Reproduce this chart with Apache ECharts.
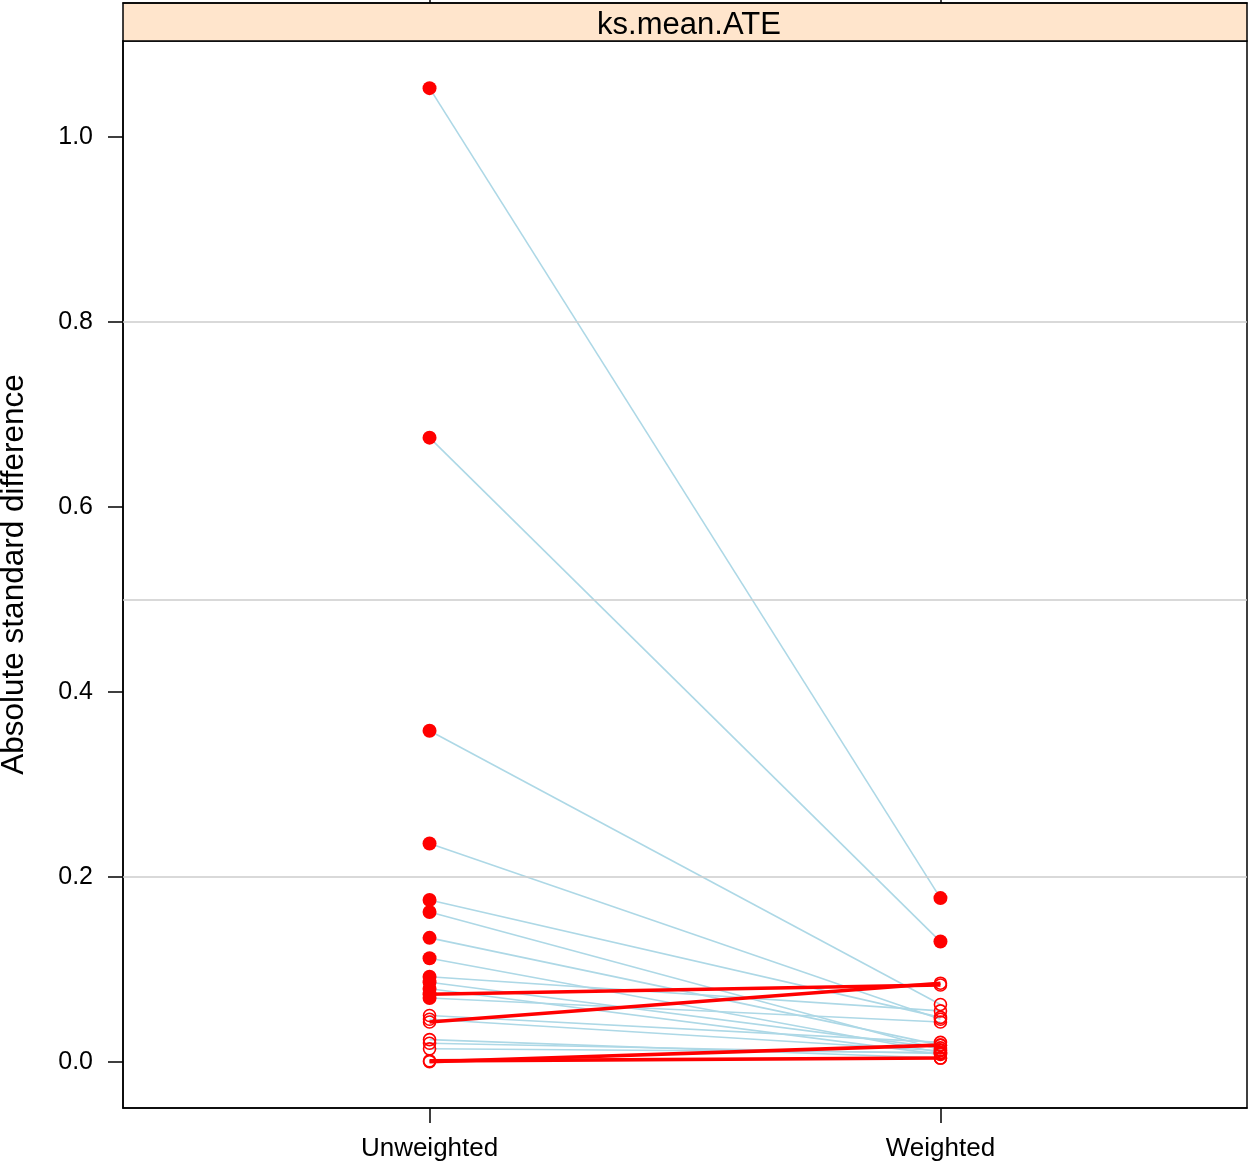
<!DOCTYPE html>
<html>
<head>
<meta charset="utf-8">
<script src="https://cdn.jsdelivr.net/npm/echarts@6/dist/echarts.min.js"></script>
<style>html,body{margin:0;padding:0;background:#fff}#c{width:1248px;height:1167px}</style>
</head>
<body>
<div id="c"></div>
<script>
var categories = ['Unweighted', 'Weighted'];
var panelTitle = 'ks.mean.ATE';
var yTicks = [0.0, 0.2, 0.4, 0.6, 0.8, 1.0];
var refLines = [0.2, 0.5, 0.8];
var unweighted = [1.053, 0.675, 0.358, 0.236, 0.175, 0.162, 0.134, 0.112, 0.092, 0.086, 0.079, 0.073, 0.069, 0.050, 0.046, 0.043, 0.024, 0.020, 0.014, 0.001, 0.000];
var weighted   = [0.177, 0.130, 0.062, 0.046, 0.048, 0.013, 0.018, 0.010, 0.055, 0.015, 0.008, 0.083, 0.043, 0.021, 0.012, 0.085, 0.004, 0.009, 0.010, 0.004, 0.018];
var unweightedSig = [1,1,1,1,1,1,1,1,1,1,1,1,1,0,0,0,0,0,0,0,0];
var weightedSig   = [1,1,0,0,0,0,0,0,0,0,0,0,0,0,0,0,0,0,0,0,0];

var chart = echarts.init(document.getElementById('c'), null, {renderer: 'canvas'});
var font = 'Liberation Sans, Arial, Helvetica, sans-serif';

var series = [];
series.push({
  type: 'line', xAxisIndex: 0, yAxisIndex: 0, data: [], z: 1, silent: true,
  markLine: {
    symbol: 'none', silent: true, label: {show: false},
    lineStyle: {color: '#cccccc', width: 1.5, type: 'solid'},
    data: refLines.map(function (v) { return {yAxis: v}; })
  }
});
for (var i = 0; i < unweighted.length; i++) {
  var up = weighted[i] > unweighted[i];
  series.push({
    type: 'line', xAxisIndex: 0, yAxisIndex: 0,
    data: [[1, unweighted[i]], [2, weighted[i]]],
    symbol: 'none', silent: true, animation: false,
    lineStyle: {color: up ? '#ff0000' : '#add8e6', width: up ? 3.6 : 1.6, opacity: 1},
    z: up ? 3 : 2
  });
}
var filled = [], hollow = [];
for (var j = 0; j < unweighted.length; j++) {
  (unweightedSig[j] ? filled : hollow).push([1, unweighted[j]]);
  (weightedSig[j] ? filled : hollow).push([2, weighted[j]]);
}
series.push({
  type: 'scatter', xAxisIndex: 0, yAxisIndex: 0, data: hollow, symbol: 'circle', symbolSize: 12,
  itemStyle: {color: 'rgba(255,255,255,0)', borderColor: '#ff0000', borderWidth: 1.6, opacity: 1}, z: 4, animation: false
});
series.push({
  type: 'scatter', xAxisIndex: 0, yAxisIndex: 0, data: filled, symbol: 'circle', symbolSize: 14,
  itemStyle: {color: '#ff0000', opacity: 1}, z: 5, animation: false
});
series.push({type: 'line', xAxisIndex: 1, yAxisIndex: 1, data: [], silent: true});

chart.setOption({
  animation: false,
  backgroundColor: '#ffffff',
  title: {
    text: panelTitle, left: 684, top: 5, textAlign: 'center',
    textStyle: {fontFamily: font, fontSize: 31, fontWeight: 'normal', color: '#000'}
  },
  grid: [
    {left: 123, right: 1, top: 41, bottom: 59, show: true, borderColor: '#000', borderWidth: 1.5, backgroundColor: '#fff', outerBoundsMode: 'none', containLabel: false},
    {left: 123, right: 1, top: 3, height: 38, show: true, borderColor: '#000', borderWidth: 1.5, backgroundColor: '#ffe5cc', outerBoundsMode: 'none', containLabel: false}
  ],
  xAxis: [
    {
      type: 'value', gridIndex: 0, min: 0.4, max: 2.6,
      axisLine: {show: true, onZero: false, lineStyle: {color: '#000', width: 1.5}},
      axisTick: {show: true, length: 15, customValues: [1, 2], lineStyle: {color: '#000', width: 1.5}},
      axisLabel: {show: true, customValues: [1, 2], margin: 28, fontFamily: font, fontSize: 26, color: '#000',
        formatter: function (v) { return categories[Math.round(v) - 1]; }},
      splitLine: {show: false}
    },
    {
      type: 'value', gridIndex: 1, min: 0.4, max: 2.6, position: 'top',
      axisLine: {show: true, onZero: false, lineStyle: {color: '#000', width: 1.5}},
      axisTick: {show: true, length: 8, customValues: [1, 2], lineStyle: {color: '#000', width: 1.5}},
      axisLabel: {show: false},
      splitLine: {show: false}
    }
  ],
  yAxis: [
    {
      type: 'value', gridIndex: 0, min: -0.05, max: 1.104,
      name: 'Absolute standard difference', nameLocation: 'middle', nameGap: 93, nameRotate: 90,
      nameTextStyle: {fontFamily: font, fontSize: 31.5, color: '#000'},
      axisLine: {show: true, onZero: false, lineStyle: {color: '#000', width: 1.5}},
      axisTick: {show: true, length: 15, customValues: yTicks, lineStyle: {color: '#000', width: 1.5}},
      axisLabel: {show: true, customValues: yTicks, margin: 30, fontFamily: font, fontSize: 25, color: '#000',
        formatter: function (v) { return v.toFixed(1); }},
      splitLine: {show: false}
    },
    {
      type: 'value', gridIndex: 1, min: 0, max: 1, show: false
    }
  ],
  series: series
});
</script>
</body>
</html>
